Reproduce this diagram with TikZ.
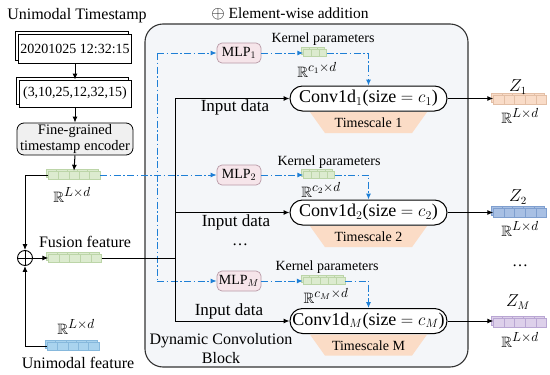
\documentclass[tikz,border=0pt]{standalone}
\usepackage{amsmath,amssymb}
\usepackage{fontspec}
\setmainfont{Liberation Serif}
\usetikzlibrary{arrows.meta,calc}
\definecolor{lineblue}{HTML}{1E7FD6}
\definecolor{blockbg}{HTML}{F4F6F9}
\definecolor{greenf}{HTML}{DCEBCF}
\definecolor{greend}{HTML}{BCD5A8}
\definecolor{peachf}{HTML}{F9DCC8}
\definecolor{peachd}{HTML}{E3BFA6}
\definecolor{bluef}{HTML}{A8C0E4}
\definecolor{blued}{HTML}{7F9FCF}
\definecolor{purpf}{HTML}{DDD0EA}
\definecolor{purpd}{HTML}{B9A6D3}
\definecolor{skyf}{HTML}{A9D3EE}
\definecolor{skyd}{HTML}{86B8DC}
\definecolor{mlpf}{HTML}{F6E5EA}
\definecolor{mlpd}{HTML}{B89AA6}
\definecolor{trapf}{HTML}{FBDCC6}
\definecolor{encf}{HTML}{F0F0F0}

% name, x, y, ncells, cellw, h, fill, draw
\newcommand{\tensorblk}[8]{%
  \foreach \i in {1,...,#4} {
    \draw[draw=#8, fill=#7, line width=0.5pt] ({#2-#4*#5/2+(\i-1)*#5-2}, {#3-#6/2-2}) rectangle ++(#5,#6);
  }
  \foreach \i in {1,...,#4} {
    \draw[draw=#8, fill=#7, line width=0.5pt] ({#2-#4*#5/2+(\i-1)*#5}, {#3-#6/2}) rectangle ++(#5,#6);
  }
  \node[inner sep=0pt, minimum width={#4*#5}, minimum height={#6}] (#1) at (#2,#3) {};
}
\newcommand{\RR}[1]{$\mathbb{R}^{\scalebox{1.2}{$\scriptstyle #1$}}$}

\begin{document}
\begin{tikzpicture}[x=1pt,y=-1pt,
  f18/.style={font=\fontsize{18}{21}\selectfont},
  f17/.style={font=\fontsize{17}{20}\selectfont},
  f16/.style={font=\fontsize{16}{19}\selectfont},
  f15/.style={font=\fontsize{15}{18}\selectfont},
  f14/.style={font=\fontsize{14}{16}\selectfont},
  arr/.style={-{Latex[length=6pt,width=5pt]}, line width=1pt},
  plainline/.style={line width=1pt},
  bluedash/.style={draw=lineblue, line width=1pt, dash pattern=on 7pt off 2.5pt on 1.5pt off 2.5pt},
  bluearr/.style={bluedash, -{Latex[length=6pt,width=5pt]}},
  tsbox/.style={draw, fill=white, line width=0.8pt, inner sep=0pt, f14},
  mlpbox/.style={draw=mlpd, fill=mlpf, rounded corners=5pt, line width=0.7pt, minimum width=44pt, minimum height=20pt, inner sep=0pt, f14},
  convbox/.style={draw, fill=white, rounded corners=12.5pt, line width=1pt, minimum width=157pt, minimum height=25pt, inner sep=0pt, f18},
]
\useasboundingbox (0,0) rectangle (550,375);

% Dynamic convolution block background
\draw[rounded corners=18pt, fill=blockbg, draw=black!80, line width=1.1pt] (145,24) rectangle (468,367);
\node[font=\fontsize{15.5}{18}\selectfont, inner sep=1pt] (eltitle) at (290,14) {\scalebox{1.2}{$\oplus$} Element-wise addition};
\node[f16, align=center, inner sep=0pt] (dcb) at (221,349) {Dynamic Convolution\\Block};

% Left column
\node[f16, inner sep=1pt] (title) at (77,16) {Unimodal Timestamp};
\draw[fill=white, line width=0.8pt] (15,31) rectangle (128,60);
\node[tsbox, minimum width=113pt, minimum height=29pt] (ts1) at (75,48.5) {20201025 12:32:15};
\draw[fill=white, line width=0.8pt] (16,77) rectangle (128,104);
\node[tsbox, minimum width=112pt, minimum height=27pt] (ts2) at (75,93.5) {(3,10,25,12,32,15)};
\node[draw, fill=encf, rounded corners=7pt, line width=0.8pt, minimum width=116pt, minimum height=32pt, inner sep=0pt, align=center, font=\fontsize{14.5}{15.5}\selectfont] (enc) at (75,139) {Fine-grained\\timestamp encoder};
\draw[arr] (ts1.south) -- (ts2.north);
\draw[arr] (ts2.south) -- (enc.north);

\tensorblk{tf}{74}{175}{5}{10.4}{8}{greenf}{greend}
\draw[arr] (enc.south) -- (tf.north);
\node[f15] (rtf) at (72,195) {\RR{L\times d}};

\node[circle, draw, line width=0.9pt, minimum size=15pt, inner sep=0pt,
  path picture={\draw[line width=0.9pt] (path picture bounding box.north) -- (path picture bounding box.south)
  (path picture bounding box.west) -- (path picture bounding box.east);}] (plus) at (25,258) {};

\tensorblk{ff}{75}{258}{5}{10.6}{8}{greenf}{greend}
\node[f16] (fflab) at (85,242) {Fusion feature};
\tensorblk{uf}{73}{346}{5}{10.4}{8}{skyf}{skyd}
\node[f15] (ruf) at (76,327) {\RR{L\times d}};
\node[f16] (uflab) at (78,363) {Unimodal feature};

\draw[arr] (tf.west) -| (plus.north);
\draw[arr] (uf.west) -| (plus.south);
\draw[arr] (plus.east) -- (ff.west);

% MLPs
\node[mlpbox] (mlp1) at (239,53) {MLP$_1$};
\node[mlpbox] (mlp2) at (239,175) {MLP$_2$};
\node[mlpbox] (mlpM) at (239,281) {MLP$_M$};

\coordinate (vt) at (157,53);
\coordinate (vb) at (157,281);
\draw[bluedash] (vt) -- (vb);
\draw[bluearr] (vt) -- (mlp1.west);
\draw[bluearr] (vb) -- (mlpM.west);
\draw[bluearr] (tf.east) -- (mlp2.west);

% Conv boxes
\node[convbox] (conv1) at (368.5,98.5) {Conv1d$_1$(size $= c_1$)};
\node[convbox] (conv2) at (368.5,212.5) {Conv1d$_2$(size $= c_2$)};
\node[convbox] (convM) at (368.5,321) {Conv1d$_M$(size $= c_M$)};

% Timescale trapezoids
\foreach \c/\t in {conv1/1, conv2/2, convM/M} {
  \fill[trapf] ($(\c.south)+(-58.5,0.6)$) -- ++(117,0) -- ++(-15,21) -- ++(-87,0) -- cycle;
  \node[f14] (tl\t) at ($(\c.south)+(0,11.5)$) {Timescale \t};
}

% Kernel tensors
\tensorblk{k1}{315}{53}{3}{7.7}{7}{greenf}{greend}
\tensorblk{k2}{319}{175}{4}{7.75}{7}{greenf}{greend}
\tensorblk{kM}{324}{281}{5}{8.4}{7}{greenf}{greend}
\node[f14] (kp1) at (323,39) {Kernel parameters};
\node[f14] (kp2) at (329,162) {Kernel parameters};
\node[f14] (kpM) at (327,267) {Kernel parameters};
\node[f15] (rk1) at (317,70) {\RR{c_1\times d}};
\node[f15] (rk2) at (321,190) {\RR{c_2\times d}};
\node[f15] (rkM) at (326,296) {\RR{c_M\times d}};

\draw[bluearr] (mlp1.east) -- (k1.west);
\draw[bluearr] (mlp2.east) -- (k2.west);
\draw[bluearr] (mlpM.east) -- (kM.west);
\draw[bluearr] (k1.east) -| (conv1.north);
\draw[bluearr] (k2.east) -| (conv2.north);
\draw[bluearr] (kM.east) -| (convM.north);

% Input data lines
\coordinate (j1) at (175,98.5);
\coordinate (j2) at (175,212.5);
\coordinate (jf) at (175,258);
\coordinate (jM) at (175,321);
\draw[plainline] (j1) -- (jM);
\draw[plainline] (ff.east) -- (jf);
\draw[arr] (j1) -- (conv1.west);
\draw[arr] (j2) -- (conv2.west);
\draw[arr] (jM) -- (convM.west);
\node[f17] (in1) at (235,107) {Input data};
\node[f17] (in2) at (236,222) {Input data};
\node[f17] (inM) at (229,311) {Input data};
\node[f16] (dots1) at (240,245) {\dots};

% Outputs
\tensorblk{z1}{520}{100}{5}{10.6}{9}{peachf}{peachd}
\tensorblk{z2}{520}{213}{5}{10.6}{9}{bluef}{blued}
\tensorblk{zM}{520}{323}{5}{10.6}{9}{purpf}{purpd}
\draw[arr] (conv1.east) -- (conv1.east -| z1.west);
\draw[arr] (conv2.east) -- (conv2.east -| z2.west);
\draw[arr] (convM.east) -- (convM.east -| zM.west);
\node[f16] (z1lab) at (518,87) {$Z_1$};
\node[f16] (z2lab) at (518,197) {$Z_2$};
\node[f16] (zMlab) at (518,302) {$Z_M$};
\node[f15] (rz1) at (520,116) {\RR{L\times d}};
\node[f15] (rz2) at (520,229) {\RR{L\times d}};
\node[f15] (rzM) at (520,340) {\RR{L\times d}};
\node[f16] (dots2) at (520,266) {\dots};
\end{tikzpicture}
\end{document}
